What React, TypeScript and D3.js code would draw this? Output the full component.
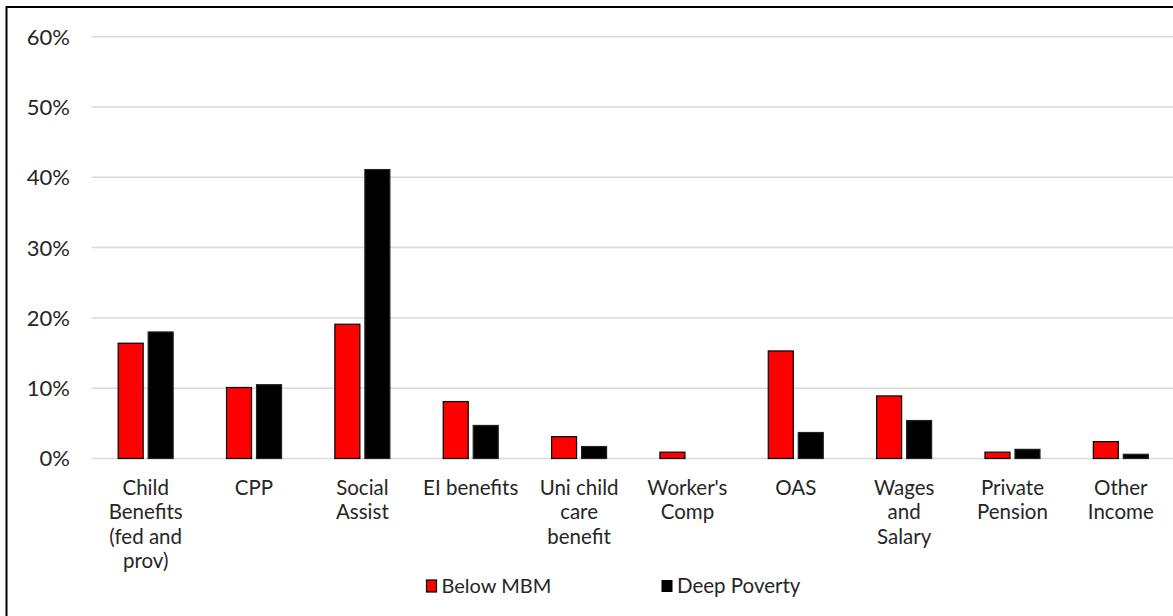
import React from "react";
import * as d3 from "d3";

const categories: string[][] = [
  ["Child", "Benefits", "(fed and", "prov)"],
  ["CPP"],
  ["Social", "Assist"],
  ["EI benefits"],
  ["Uni child", "care", "benefit"],
  ["Worker's", "Comp"],
  ["OAS"],
  ["Wages", "and", "Salary"],
  ["Private", "Pension"],
  ["Other", "Income"],
];
const seriesNames = ["Below MBM", "Deep Poverty"];
const belowMBM = [0.164, 0.101, 0.191, 0.081, 0.031, 0.009, 0.153, 0.089, 0.009, 0.024];
const deepPoverty = [0.180, 0.105, 0.411, 0.047, 0.017, 0.0, 0.037, 0.054, 0.013, 0.006];
const yTicks = [0, 0.1, 0.2, 0.3, 0.4, 0.5, 0.6];
const colors = ["#ff0000", "#000000"];

const W = 1173;
const H = 616;
const FONT = "Lato, 'DejaVu Sans', sans-serif";

export default function App() {
  const keys = categories.map((c) => c.join(" "));
  const x0 = d3.scaleBand<string>().domain(keys).range([91.5, 1175]).padding(0);
  const x1 = d3
    .scaleBand<string>()
    .domain(seriesNames)
    .range([-27.5, 27.5])
    .paddingInner(1 / 6)
    .paddingOuter(0);
  const y = d3.scaleLinear().domain([0, 0.6]).range([458.5, 36.7]);
  const fmt = d3.format(".0%");
  const data = [belowMBM, deepPoverty];

  return (
    <svg
      width={W}
      height={H}
      style={{ position: "absolute", left: 0, top: 0, display: "block", background: "#fff" }}
      fontFamily={FONT}
    >
      <rect x={0} y={0} width={W} height={H} fill="#fff" />
      <rect x={6.5} y={7} width={1200} height={700} fill="none" stroke="#000" strokeWidth={2} />
      {yTicks.map((t) => (
        <g key={t}>
          <line x1={91.5} x2={1175} y1={y(t)} y2={y(t)} stroke="#d9d9d9" strokeWidth={1.5} />
          <text x={70} y={y(t)} dy="0.36em" textAnchor="end" fontSize={22} fill="#262626">
            {fmt(t)}
          </text>
        </g>
      ))}
      {keys.map((k, i) => {
        const cx = (x0(k) as number) + x0.bandwidth() / 2;
        return (
          <g key={k}>
            {seriesNames.map((s, j) => {
              const v = data[j][i];
              if (v <= 0) return null;
              return (
                <rect
                  key={s}
                  x={cx + (x1(s) as number)}
                  y={y(v)}
                  width={x1.bandwidth()}
                  height={y(0) - y(v)}
                  fill={colors[j]}
                  stroke={j === 0 ? "#000" : "#222"}
                  strokeWidth={1.2}
                />
              );
            })}
            <text x={cx} y={495} textAnchor="middle" fontSize={20.5} fill="#262626">
              {categories[i].map((line, li) => (
                <tspan key={li} x={cx} dy={li === 0 ? 0 : 24.3}>
                  {line}
                </tspan>
              ))}
            </text>
          </g>
        );
      })}
      <g>
        <rect x={426.5} y={580} width={10} height={12} fill={colors[0]} stroke="#000" strokeWidth={1.2} />
        <text x={441.5} y={592.5} fontSize={20} fill="#262626">
          {seriesNames[0]}
        </text>
        <rect x={661.5} y={580} width={11} height={12} fill={colors[1]} />
        <text x={677} y={592.5} fontSize={20.5} fill="#262626">
          {seriesNames[1]}
        </text>
      </g>
    </svg>
  );
}
